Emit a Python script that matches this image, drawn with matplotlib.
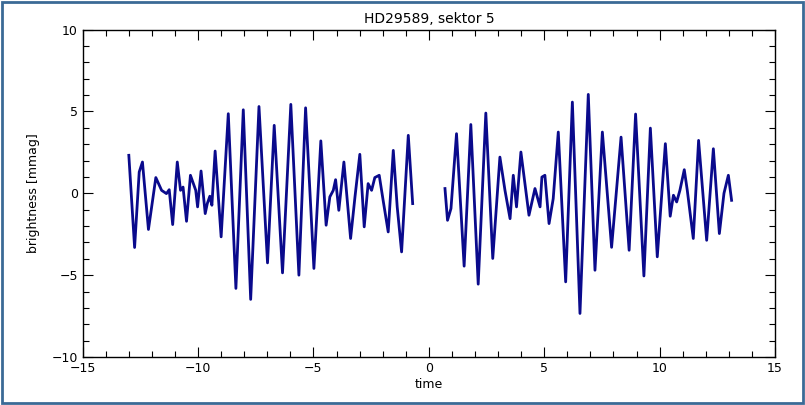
import matplotlib
matplotlib.use("Agg")
import matplotlib.pyplot as plt
from matplotlib.ticker import MultipleLocator
from matplotlib.patches import Rectangle

title = "HD29589, sektor 5"
x_label = "time"
y_label = "brightness [mmag]"

# first segment
time_a = [-13.0, -12.75, -12.55, -12.41, -12.15, -11.83, -11.58, -11.37, -11.25, -11.1,
          -10.9, -10.76, -10.65, -10.5, -10.33, -10.1, -10.02, -9.87, -9.69, -9.6,
          -9.49, -9.4, -9.26, -9.0, -8.69, -8.36, -8.04, -7.72, -7.36, -6.99,
          -6.7, -6.34, -5.98, -5.63, -5.34, -4.98, -4.68, -4.45, -4.29, -4.14,
          -4.04, -3.9, -3.68, -3.39, -3.2, -2.99, -2.8, -2.63, -2.48, -2.34,
          -2.15, -1.98, -1.76, -1.54, -1.37, -1.18, -0.89, -0.7]
mag_a = [2.32, -3.31, 1.3, 1.91, -2.21, 0.96, 0.18, -0.02, 0.22, -1.91,
         1.91, 0.18, 0.38, -1.71, 1.1, 0.18, -0.83, 1.36, -1.24, -0.63,
         -0.18, -0.73, 2.58, -2.66, 4.86, -5.81, 5.1, -6.48, 5.3, -4.25,
         4.15, -4.86, 5.43, -5.0, 5.22, -4.59, 3.2, -1.95, -0.22, 0.18,
         0.83, -1.04, 1.91, -2.76, -0.22, 2.38, -2.05, 0.59, 0.18, 0.96,
         1.1, -0.43, -2.36, 2.62, -0.83, -3.58, 3.54, -0.63]

# second segment
time_b = [0.7, 0.81, 0.96, 1.2, 1.53, 1.82, 2.14, 2.47, 2.77, 3.08,
          3.3, 3.52, 3.66, 3.8, 3.99, 4.34, 4.6, 4.82, 4.9, 5.03,
          5.21, 5.39, 5.61, 5.93, 6.22, 6.55, 6.91, 7.2, 7.52, 7.92,
          8.33, 8.68, 8.96, 9.32, 9.6, 9.9, 10.25, 10.46, 10.6, 10.74,
          10.88, 11.07, 11.2, 11.46, 11.69, 12.04, 12.33, 12.59, 12.79, 12.98,
          13.12]
mag_b = [0.29, -1.65, -0.93, 3.64, -4.45, 4.2, -5.55, 4.9, -3.98, 2.21,
         0.18, -1.55, 1.1, -0.83, 2.52, -1.34, 0.29, -0.83, 0.99, 1.1,
         -1.85, -0.33, 3.74, -5.41, 5.57, -7.34, 6.04, -4.7, 3.74, -3.3,
         3.43, -3.48, 4.84, -5.05, 3.98, -3.88, 3.03, -1.4, -0.12, -0.53,
         0.18, 1.44, 0.18, -2.76, 3.23, -2.87, 2.72, -2.46, 0.0, 1.1,
         -0.43]

x_ticks = [-15, -10, -5, 0, 5, 10, 15]
y_ticks = [-10, -5, 0, 5, 10]

plt.rcParams['font.family'] = ['DejaVu Sans']
fig = plt.figure(figsize=(8.05, 4.05), dpi=100)
fig.patch.set_facecolor('white')
fig.patches.append(Rectangle((0.002, 0.004), 0.996, 0.992, transform=fig.transFigure,
                             fill=False, edgecolor='#3b6a96', linewidth=2.0))

ax = fig.add_axes([0.1027, 0.1185, 0.86, 0.8085])
line_color = '#0a0a8c'
ax.plot(time_a, mag_a, color=line_color, linewidth=2.0, solid_joinstyle='round')
ax.plot(time_b, mag_b, color=line_color, linewidth=2.0, solid_joinstyle='round')

ax.set_xlim(-15, 15)
ax.set_ylim(-10, 10)
ax.set_xticks(x_ticks)
ax.set_yticks(y_ticks)
ax.xaxis.set_minor_locator(MultipleLocator(1))
ax.yaxis.set_minor_locator(MultipleLocator(1))
ax.tick_params(which='both', direction='in', top=True, right=True, labelsize=9, width=0.8)
ax.tick_params(which='major', length=7)
ax.tick_params(which='minor', length=4)
for s in ax.spines.values():
    s.set_linewidth(1.0)

ax.set_title(title, fontsize=10, pad=5)
ax.set_xlabel(x_label, fontsize=9, labelpad=2)
ax.set_ylabel(y_label, fontsize=9, labelpad=8)

fig.savefig("out.png", dpi=100)
